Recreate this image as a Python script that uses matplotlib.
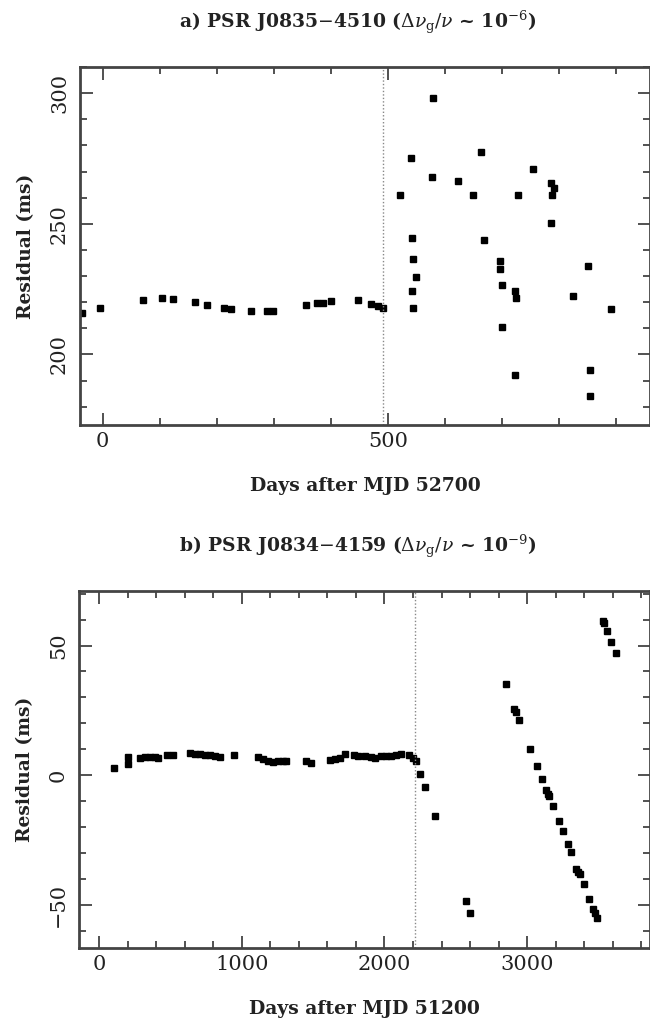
import matplotlib
matplotlib.use("Agg")
import matplotlib.pyplot as plt
from matplotlib.ticker import MultipleLocator

plt.rcParams['font.family'] = ['DejaVu Serif']
plt.rcParams['mathtext.fontset'] = 'dejavuserif'

# ---- Panel a data: PSR J0835-4510 ----
a_days = [-36, -5, 70, 104, 124, 161, 183, 213, 225, 260, 288, 298, 356, 375, 387,
          401, 448, 471, 483, 492,
          522, 541, 542, 544, 550, 542, 544, 580, 577, 624, 650, 664, 668, 696, 696,
          701, 700, 723, 725, 723, 728, 755, 787, 792, 788, 787, 825, 852, 855, 855, 891]
a_res = [215.9, 217.8, 220.9, 221.5, 221.1, 220.0, 219.0, 217.8, 217.3, 216.5, 216.5,
         216.5, 219.0, 219.8, 219.8, 220.6, 221.0, 219.3, 218.6, 217.8,
         261.2, 275.3, 244.5, 236.6, 229.5, 224.4, 217.7, 298.0, 268.0, 266.2, 261.0,
         277.6, 243.8, 235.9, 232.7, 226.6, 210.4, 224.2, 221.6, 192.0, 261.0, 270.9,
         265.8, 263.6, 261.0, 250.4, 222.3, 233.9, 193.9, 184.2, 217.4]
a_glitch = 491

# ---- Panel b data: PSR J0834-4159 ----
b_days = [103, 203, 203, 285, 320, 355, 391, 410, 475, 520, 636, 671, 706, 741, 776,
          811, 846, 946, 1114, 1149, 1184, 1219, 1254, 1289, 1313, 1453, 1488, 1617,
          1652, 1687, 1722, 1787, 1815, 1862, 1909, 1932, 1974, 2014, 2049, 2084, 2119,
          2172, 2200, 2219,
          2247, 2282, 2352, 2570, 2600, 2848, 2908, 2918, 2943, 3018, 3065, 3102, 3128,
          3142, 3153, 3180, 3221, 3252, 3287, 3305, 3345, 3357, 3369, 3397, 3432, 3458,
          3474, 3492, 3528, 3537, 3560, 3586, 3621]
b_res = [2.8, 7.0, 4.5, 6.8, 7.0, 7.0, 7.2, 6.8, 8.0, 8.0, 8.7, 8.4, 8.1, 7.9, 7.7,
         7.5, 7.2, 7.7, 7.0, 6.2, 5.4, 5.3, 5.4, 5.5, 5.5, 5.5, 4.7, 5.8,
         6.2, 6.8, 8.1, 7.7, 7.3, 7.3, 7.0, 6.8, 7.3, 7.3, 7.6, 7.7, 8.1,
         7.7, 6.8, 5.5,
         0.7, -4.5, -15.8, -48.3, -53.2, 35.0, 25.5, 24.5, 21.2, 10.1, 3.7, -1.3, -5.5,
         -7.0, -8.1, -11.9, -17.4, -21.5, -26.5, -29.7, -35.9, -37.2, -38.1, -41.9, -47.8, -51.3,
         -53.2, -55.1, 59.3, 58.6, 55.5, 51.3, 47.2]
b_glitch = 2212

W, H = 650, 1028
fig = plt.figure(figsize=(W / 100, H / 100), dpi=100)

LBL = dict(fontsize=13.5, fontweight='bold', color='#222222')


def px_axes(l, t, r, b):
    return fig.add_axes([l / W, 1 - b / H, (r - l) / W, (b - t) / H])


def style(ax, xmaj, xmin, ymaj, ymin):
    ax.xaxis.set_major_locator(MultipleLocator(xmaj))
    ax.xaxis.set_minor_locator(MultipleLocator(xmin))
    ax.yaxis.set_major_locator(MultipleLocator(ymaj))
    ax.yaxis.set_minor_locator(MultipleLocator(ymin))
    ax.tick_params(which='both', direction='in', top=True, right=True,
                   color='#333333', width=1.2)
    ax.tick_params(which='major', length=9, labelsize=15, labelcolor='#222222')
    ax.tick_params(axis='x', which='major', pad=5)
    ax.tick_params(axis='y', which='major', pad=8)
    ax.tick_params(which='minor', length=5)
    for lab in ax.get_yticklabels():
        lab.set_rotation(90)
        lab.set_va('center')
    for s in ax.spines.values():
        s.set_linewidth(2)
        s.set_color('#444444')


# Panel a
ax1 = px_axes(80, 67, 650, 425)
ax1.plot(a_days, a_res, 's', color='black', ms=4.5, mec='black')
ax1.axvline(a_glitch, color='#888888', lw=1, ls=(0, (1, 1.5)))
ax1.set_xlim(-40, 960)
ax1.set_ylim(173, 310)
style(ax1, 500, 100, 50, 10)
ax1.set_xlabel('Days after MJD 52700', labelpad=19, **LBL)
ax1.set_ylabel('Residual (ms)', labelpad=11, **LBL)
fig.text(358 / W, 1 - 22 / H,
         r'a) PSR J0835$-$4510 ($\Delta\nu_{\rm g}/\nu$ ~ 10$^{-6}$)',
         ha='center', va='center', **LBL)

# Panel b
ax2 = px_axes(79, 591, 650, 948)
ax2.plot(b_days, b_res, 's', color='black', ms=4.5, mec='black')
ax2.axvline(b_glitch, color='#888888', lw=1, ls=(0, (1, 1.5)))
ax2.set_xlim(-140, 3860)
ax2.set_ylim(-66.5, 71)
style(ax2, 1000, 200, 50, 10)
ax2.set_xlabel('Days after MJD 51200', labelpad=19, **LBL)
ax2.set_ylabel('Residual (ms)', labelpad=11, **LBL)
fig.text(358 / W, 1 - 546 / H,
         r'b) PSR J0834$-$4159 ($\Delta\nu_{\rm g}/\nu$ ~ 10$^{-9}$)',
         ha='center', va='center', **LBL)

fig.savefig('out.png', dpi=100)
